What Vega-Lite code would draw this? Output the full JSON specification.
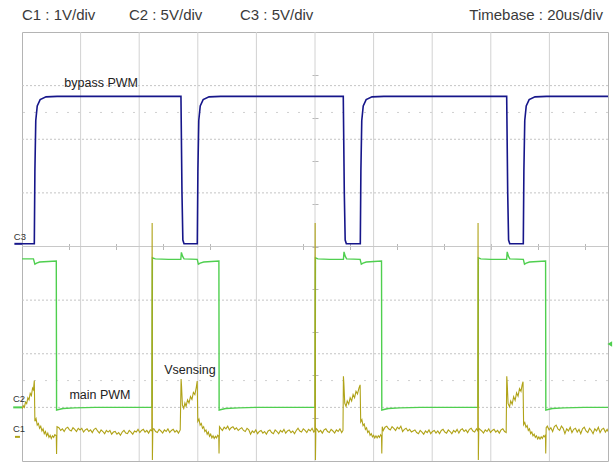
{
  "$schema": "https://vega.github.io/schema/vega-lite/v6.json",
  "width": 586,
  "height": 429,
  "padding": {"left": 22, "top": 32, "right": 5, "bottom": 1},
  "autosize": {"type": "none"},
  "background": "white",
  "config": {
    "view": {"stroke": "#b4b4b4", "strokeWidth": 1},
    "axis": {"title": null, "labels": false, "domain": false, "grid": false},
    "font": "Liberation Sans"
  },
  "datasets": {
    "vgrid": [{"t": 20}, {"t": 40}, {"t": 60}, {"t": 80}, {"t": 100}, {"t": 120}, {"t": 140}, {"t": 160}, {"t": 180}],
    "hgrid": [{"v": 1}, {"v": 2}, {"v": 3}, {"v": 5}, {"v": 6}, {"v": 7}],
    "hcenter": [{"v": 4}],
    "hminor": [{"v": 1.5}, {"v": 6.5}],
    "c3": [
      {"t": 0, "v": 4.05}, {"t": 4.2, "v": 4.05}, {"t": 4.4, "v": 5.4}, {"t": 4.7, "v": 6.35}, {"t": 5.2, "v": 6.62}, {"t": 6.2, "v": 6.74}, {"t": 8.2, "v": 6.79}, {"t": 12, "v": 6.8},
      {"t": 54.25, "v": 6.8}, {"t": 54.6, "v": 5.0}, {"t": 54.9, "v": 4.12}, {"t": 55.3, "v": 4.05},
      {"t": 59.83, "v": 4.05}, {"t": 60.03, "v": 5.4}, {"t": 60.33, "v": 6.35}, {"t": 60.83, "v": 6.62}, {"t": 61.83, "v": 6.74}, {"t": 63.83, "v": 6.79}, {"t": 67.8, "v": 6.8},
      {"t": 109.65, "v": 6.8}, {"t": 110.0, "v": 5.0}, {"t": 110.3, "v": 4.12}, {"t": 110.7, "v": 4.05},
      {"t": 115.46, "v": 4.05}, {"t": 115.66, "v": 5.4}, {"t": 115.96, "v": 6.35}, {"t": 116.46, "v": 6.62}, {"t": 117.46, "v": 6.74}, {"t": 119.46, "v": 6.79}, {"t": 123.5, "v": 6.8},
      {"t": 165.42, "v": 6.8}, {"t": 165.77, "v": 5.0}, {"t": 166.07, "v": 4.12}, {"t": 166.47, "v": 4.05},
      {"t": 171.09, "v": 4.05}, {"t": 171.29, "v": 5.4}, {"t": 171.59, "v": 6.35}, {"t": 172.09, "v": 6.62}, {"t": 173.09, "v": 6.74}, {"t": 175.09, "v": 6.79}, {"t": 179, "v": 6.8}, {"t": 200, "v": 6.8}
    ],
    "c2": [
      {"t": 0, "v": 3.77}, {"t": 3.9, "v": 3.77}, {"t": 4.4, "v": 3.67}, {"t": 5.0, "v": 3.69}, {"t": 6.0, "v": 3.71}, {"t": 9.0, "v": 3.72}, {"t": 11.7, "v": 3.73},
      {"t": 11.8, "v": 0.95}, {"t": 12.5, "v": 0.96}, {"t": 14.0, "v": 0.98}, {"t": 18.0, "v": 0.99}, {"t": 25, "v": 1.0}, {"t": 44.4, "v": 1.0},
      {"t": 44.5, "v": 3.79}, {"t": 45.5, "v": 3.77}, {"t": 50, "v": 3.76}, {"t": 54.2, "v": 3.76}, {"t": 54.4, "v": 3.89}, {"t": 54.8, "v": 3.82}, {"t": 55.3, "v": 3.77},
      {"t": 59.8, "v": 3.76}, {"t": 60.2, "v": 3.67}, {"t": 60.8, "v": 3.69}, {"t": 62, "v": 3.71}, {"t": 67.2, "v": 3.73},
      {"t": 67.28, "v": 0.95}, {"t": 68, "v": 0.96}, {"t": 69.5, "v": 0.98}, {"t": 74, "v": 0.99}, {"t": 80, "v": 1.0}, {"t": 100.05, "v": 1.0},
      {"t": 100.15, "v": 3.79}, {"t": 101, "v": 3.77}, {"t": 105, "v": 3.76}, {"t": 109.7, "v": 3.76}, {"t": 109.9, "v": 3.9}, {"t": 110.3, "v": 3.82}, {"t": 110.8, "v": 3.77},
      {"t": 115.4, "v": 3.76}, {"t": 115.8, "v": 3.67}, {"t": 116.4, "v": 3.69}, {"t": 117.5, "v": 3.71}, {"t": 122.7, "v": 3.73},
      {"t": 122.8, "v": 0.95}, {"t": 123.5, "v": 0.96}, {"t": 125, "v": 0.98}, {"t": 129, "v": 0.99}, {"t": 136, "v": 1.0}, {"t": 155.65, "v": 1.0},
      {"t": 155.75, "v": 3.79}, {"t": 156.6, "v": 3.77}, {"t": 160, "v": 3.76}, {"t": 165.4, "v": 3.76}, {"t": 165.6, "v": 3.9}, {"t": 166.0, "v": 3.82}, {"t": 166.5, "v": 3.77},
      {"t": 171.1, "v": 3.76}, {"t": 171.5, "v": 3.67}, {"t": 172.1, "v": 3.69}, {"t": 173.2, "v": 3.71}, {"t": 178.7, "v": 3.73},
      {"t": 178.78, "v": 0.95}, {"t": 179.5, "v": 0.96}, {"t": 181, "v": 0.98}, {"t": 185, "v": 0.99}, {"t": 192, "v": 1.0}, {"t": 200, "v": 1.0}
    ],
    "c1": [
      {"t": 0, "v": 0.97}, {"t": 0.4, "v": 1.03}, {"t": 0.8, "v": 1.0}, {"t": 1.2, "v": 1.1}, {"t": 1.6, "v": 1.07}, {"t": 2.0, "v": 1.18}, {"t": 2.4, "v": 1.14}, {"t": 2.8, "v": 1.26}, {"t": 3.2, "v": 1.22}, {"t": 3.6, "v": 1.36}, {"t": 3.9, "v": 1.33}, {"t": 4.2, "v": 1.5},
      {"t": 4.4, "v": 0.74}, {"t": 4.8, "v": 0.79}, {"t": 5.2, "v": 0.67}, {"t": 5.6, "v": 0.7}, {"t": 6.0, "v": 0.61}, {"t": 6.4, "v": 0.65}, {"t": 6.8, "v": 0.56}, {"t": 7.2, "v": 0.6}, {"t": 7.6, "v": 0.51}, {"t": 8.0, "v": 0.55}, {"t": 8.4, "v": 0.47}, {"t": 8.8, "v": 0.52}, {"t": 9.2, "v": 0.44}, {"t": 9.6, "v": 0.48}, {"t": 10.0, "v": 0.42}, {"t": 10.4, "v": 0.47}, {"t": 10.8, "v": 0.44}, {"t": 11.2, "v": 0.49}, {"t": 11.7, "v": 0.47},
      {"t": 11.8, "v": 0.13}, {"t": 11.95, "v": 0.64},
      {"t": 12.6, "v": 0.62}, {"t": 13.2, "v": 0.57}, {"t": 13.8, "v": 0.6}, {"t": 14.4, "v": 0.55}, {"t": 15.0, "v": 0.61}, {"t": 15.6, "v": 0.63}, {"t": 16.2, "v": 0.58}, {"t": 16.8, "v": 0.56}, {"t": 17.4, "v": 0.62}, {"t": 18.0, "v": 0.59}, {"t": 18.6, "v": 0.55}, {"t": 19.2, "v": 0.61}, {"t": 19.8, "v": 0.58}, {"t": 20.4, "v": 0.61}, {"t": 21.0, "v": 0.54}, {"t": 21.6, "v": 0.58}, {"t": 22.2, "v": 0.6}, {"t": 22.8, "v": 0.55}, {"t": 23.4, "v": 0.58}, {"t": 24.0, "v": 0.53}, {"t": 24.6, "v": 0.59}, {"t": 25.2, "v": 0.61}, {"t": 25.8, "v": 0.56}, {"t": 26.4, "v": 0.52}, {"t": 27.0, "v": 0.58}, {"t": 27.6, "v": 0.55}, {"t": 28.2, "v": 0.51}, {"t": 28.8, "v": 0.57}, {"t": 29.4, "v": 0.54}, {"t": 30.0, "v": 0.57}, {"t": 30.6, "v": 0.5}, {"t": 31.2, "v": 0.54}, {"t": 31.8, "v": 0.55}, {"t": 32.4, "v": 0.5}, {"t": 33.0, "v": 0.53}, {"t": 33.6, "v": 0.48}, {"t": 34.2, "v": 0.54}, {"t": 34.8, "v": 0.57}, {"t": 35.4, "v": 0.52}, {"t": 36.0, "v": 0.51}, {"t": 36.6, "v": 0.57}, {"t": 37.2, "v": 0.54}, {"t": 37.8, "v": 0.5}, {"t": 38.4, "v": 0.56}, {"t": 39.0, "v": 0.54}, {"t": 39.6, "v": 0.59}, {"t": 40.2, "v": 0.53}, {"t": 40.8, "v": 0.57}, {"t": 41.4, "v": 0.59}, {"t": 42.0, "v": 0.54}, {"t": 42.6, "v": 0.57}, {"t": 43.2, "v": 0.52}, {"t": 43.8, "v": 0.58}, {"t": 44.3, "v": 0.56},
      {"t": 44.42, "v": 4.44}, {"t": 44.5, "v": 0.02}, {"t": 44.65, "v": 0.6},
      {"t": 45.0, "v": 0.6}, {"t": 45.6, "v": 0.55}, {"t": 46.2, "v": 0.53}, {"t": 46.8, "v": 0.59}, {"t": 47.4, "v": 0.56}, {"t": 48.0, "v": 0.52}, {"t": 48.6, "v": 0.58}, {"t": 49.2, "v": 0.55}, {"t": 49.8, "v": 0.6}, {"t": 50.4, "v": 0.53}, {"t": 51.0, "v": 0.57}, {"t": 51.6, "v": 0.59}, {"t": 52.2, "v": 0.54}, {"t": 52.8, "v": 0.57}, {"t": 53.4, "v": 0.52}, {"t": 54.0, "v": 0.58},
      {"t": 54.3, "v": 1.53}, {"t": 54.45, "v": 1.4}, {"t": 54.75, "v": 1.04}, {"t": 55.2, "v": 0.98}, {"t": 55.6, "v": 1.08}, {"t": 56.0, "v": 1.02}, {"t": 56.5, "v": 1.14}, {"t": 57.0, "v": 1.08}, {"t": 57.5, "v": 1.2}, {"t": 58.0, "v": 1.15}, {"t": 58.5, "v": 1.28}, {"t": 59.0, "v": 1.24}, {"t": 59.5, "v": 1.38}, {"t": 59.8, "v": 1.49},
      {"t": 60.0, "v": 0.74}, {"t": 60.4, "v": 0.78}, {"t": 60.8, "v": 0.67}, {"t": 61.2, "v": 0.7}, {"t": 61.6, "v": 0.61}, {"t": 62.0, "v": 0.64}, {"t": 62.4, "v": 0.55}, {"t": 62.8, "v": 0.58}, {"t": 63.2, "v": 0.5}, {"t": 63.6, "v": 0.54}, {"t": 64.0, "v": 0.46}, {"t": 64.4, "v": 0.5}, {"t": 64.8, "v": 0.43}, {"t": 65.2, "v": 0.47}, {"t": 65.6, "v": 0.42}, {"t": 66.0, "v": 0.46}, {"t": 66.4, "v": 0.43}, {"t": 66.8, "v": 0.48}, {"t": 67.15, "v": 0.46},
      {"t": 67.25, "v": 0.14}, {"t": 67.4, "v": 0.64},
      {"t": 67.8, "v": 0.61}, {"t": 68.4, "v": 0.57}, {"t": 69.0, "v": 0.63}, {"t": 69.6, "v": 0.6}, {"t": 70.2, "v": 0.65}, {"t": 70.8, "v": 0.58}, {"t": 71.4, "v": 0.62}, {"t": 72.0, "v": 0.64}, {"t": 72.6, "v": 0.59}, {"t": 73.2, "v": 0.62}, {"t": 73.8, "v": 0.57}, {"t": 74.4, "v": 0.6}, {"t": 75.0, "v": 0.62}, {"t": 75.6, "v": 0.57}, {"t": 76.2, "v": 0.55}, {"t": 76.8, "v": 0.61}, {"t": 77.4, "v": 0.58}, {"t": 78.0, "v": 0.5}, {"t": 78.6, "v": 0.56}, {"t": 79.2, "v": 0.53}, {"t": 79.8, "v": 0.58}, {"t": 80.4, "v": 0.51}, {"t": 81.0, "v": 0.55}, {"t": 81.6, "v": 0.57}, {"t": 82.2, "v": 0.52}, {"t": 82.8, "v": 0.55}, {"t": 83.4, "v": 0.5}, {"t": 84.0, "v": 0.56}, {"t": 84.6, "v": 0.58}, {"t": 85.2, "v": 0.53}, {"t": 85.8, "v": 0.51}, {"t": 86.4, "v": 0.58}, {"t": 87.0, "v": 0.55}, {"t": 87.6, "v": 0.51}, {"t": 88.2, "v": 0.57}, {"t": 88.8, "v": 0.54}, {"t": 89.4, "v": 0.59}, {"t": 90.0, "v": 0.52}, {"t": 90.6, "v": 0.56}, {"t": 91.2, "v": 0.58}, {"t": 91.8, "v": 0.53}, {"t": 92.4, "v": 0.56}, {"t": 93.0, "v": 0.51}, {"t": 93.6, "v": 0.57}, {"t": 94.2, "v": 0.61}, {"t": 94.8, "v": 0.56}, {"t": 95.4, "v": 0.54}, {"t": 96.0, "v": 0.6}, {"t": 96.6, "v": 0.57}, {"t": 97.2, "v": 0.53}, {"t": 97.8, "v": 0.59}, {"t": 98.4, "v": 0.56}, {"t": 99.0, "v": 0.61}, {"t": 99.6, "v": 0.54}, {"t": 99.95, "v": 0.57},
      {"t": 100.05, "v": 4.44}, {"t": 100.15, "v": 0.02}, {"t": 100.3, "v": 0.61},
      {"t": 100.7, "v": 0.59}, {"t": 101.3, "v": 0.54}, {"t": 101.9, "v": 0.57}, {"t": 102.5, "v": 0.52}, {"t": 103.1, "v": 0.58}, {"t": 103.7, "v": 0.6}, {"t": 104.3, "v": 0.55}, {"t": 104.9, "v": 0.53}, {"t": 105.5, "v": 0.59}, {"t": 106.1, "v": 0.56}, {"t": 106.7, "v": 0.52}, {"t": 107.3, "v": 0.58}, {"t": 107.9, "v": 0.55}, {"t": 108.5, "v": 0.6}, {"t": 109.1, "v": 0.53}, {"t": 109.55, "v": 0.57},
      {"t": 109.7, "v": 1.58}, {"t": 109.85, "v": 1.45}, {"t": 110.15, "v": 1.08}, {"t": 110.6, "v": 1.02}, {"t": 111.0, "v": 1.12}, {"t": 111.5, "v": 1.06}, {"t": 112.0, "v": 1.18}, {"t": 112.5, "v": 1.12}, {"t": 113.0, "v": 1.24}, {"t": 113.5, "v": 1.18}, {"t": 114.0, "v": 1.3}, {"t": 114.5, "v": 1.25}, {"t": 115.0, "v": 1.36}, {"t": 115.4, "v": 1.42},
      {"t": 115.6, "v": 0.73}, {"t": 116.0, "v": 0.77}, {"t": 116.4, "v": 0.66}, {"t": 116.8, "v": 0.69}, {"t": 117.2, "v": 0.59}, {"t": 117.6, "v": 0.62}, {"t": 118.0, "v": 0.53}, {"t": 118.4, "v": 0.56}, {"t": 118.8, "v": 0.48}, {"t": 119.2, "v": 0.51}, {"t": 119.6, "v": 0.45}, {"t": 120.0, "v": 0.48}, {"t": 120.4, "v": 0.43}, {"t": 120.8, "v": 0.47}, {"t": 121.2, "v": 0.43}, {"t": 121.6, "v": 0.47}, {"t": 122.0, "v": 0.44}, {"t": 122.4, "v": 0.49}, {"t": 122.7, "v": 0.46},
      {"t": 122.8, "v": 0.14}, {"t": 122.95, "v": 0.64},
      {"t": 123.3, "v": 0.57}, {"t": 123.9, "v": 0.63}, {"t": 124.5, "v": 0.65}, {"t": 125.1, "v": 0.6}, {"t": 125.7, "v": 0.58}, {"t": 126.3, "v": 0.64}, {"t": 126.9, "v": 0.61}, {"t": 127.5, "v": 0.57}, {"t": 128.1, "v": 0.63}, {"t": 128.7, "v": 0.6}, {"t": 129.3, "v": 0.65}, {"t": 129.9, "v": 0.55}, {"t": 130.5, "v": 0.59}, {"t": 131.1, "v": 0.61}, {"t": 131.7, "v": 0.56}, {"t": 132.3, "v": 0.59}, {"t": 132.9, "v": 0.54}, {"t": 133.5, "v": 0.56}, {"t": 134.1, "v": 0.58}, {"t": 134.7, "v": 0.53}, {"t": 135.3, "v": 0.51}, {"t": 135.9, "v": 0.57}, {"t": 136.5, "v": 0.54}, {"t": 137.1, "v": 0.5}, {"t": 137.7, "v": 0.56}, {"t": 138.3, "v": 0.53}, {"t": 138.9, "v": 0.58}, {"t": 139.5, "v": 0.51}, {"t": 140.1, "v": 0.55}, {"t": 140.7, "v": 0.57}, {"t": 141.3, "v": 0.52}, {"t": 141.9, "v": 0.56}, {"t": 142.5, "v": 0.51}, {"t": 143.1, "v": 0.57}, {"t": 143.7, "v": 0.59}, {"t": 144.3, "v": 0.54}, {"t": 144.9, "v": 0.52}, {"t": 145.5, "v": 0.58}, {"t": 146.1, "v": 0.55}, {"t": 146.7, "v": 0.51}, {"t": 147.3, "v": 0.57}, {"t": 147.9, "v": 0.54}, {"t": 148.5, "v": 0.59}, {"t": 149.1, "v": 0.52}, {"t": 149.7, "v": 0.58}, {"t": 150.3, "v": 0.6}, {"t": 150.9, "v": 0.55}, {"t": 151.5, "v": 0.58}, {"t": 152.1, "v": 0.53}, {"t": 152.7, "v": 0.59}, {"t": 153.3, "v": 0.61}, {"t": 153.9, "v": 0.56}, {"t": 154.5, "v": 0.54}, {"t": 155.1, "v": 0.6}, {"t": 155.55, "v": 0.56},
      {"t": 155.65, "v": 4.44}, {"t": 155.75, "v": 0.02}, {"t": 155.9, "v": 0.61},
      {"t": 156.3, "v": 0.59}, {"t": 156.9, "v": 0.56}, {"t": 157.5, "v": 0.52}, {"t": 158.1, "v": 0.58}, {"t": 158.7, "v": 0.55}, {"t": 159.3, "v": 0.6}, {"t": 159.9, "v": 0.53}, {"t": 160.5, "v": 0.57}, {"t": 161.1, "v": 0.59}, {"t": 161.7, "v": 0.54}, {"t": 162.3, "v": 0.57}, {"t": 162.9, "v": 0.52}, {"t": 163.5, "v": 0.58}, {"t": 164.1, "v": 0.6}, {"t": 164.7, "v": 0.55}, {"t": 165.25, "v": 0.53},
      {"t": 165.45, "v": 1.58}, {"t": 165.6, "v": 1.45}, {"t": 165.9, "v": 1.07}, {"t": 166.4, "v": 1.01}, {"t": 166.8, "v": 1.12}, {"t": 167.3, "v": 1.06}, {"t": 167.8, "v": 1.2}, {"t": 168.3, "v": 1.13}, {"t": 168.8, "v": 1.27}, {"t": 169.3, "v": 1.21}, {"t": 169.8, "v": 1.35}, {"t": 170.3, "v": 1.3}, {"t": 170.7, "v": 1.42}, {"t": 171.0, "v": 1.48},
      {"t": 171.2, "v": 0.68}, {"t": 171.6, "v": 0.72}, {"t": 172.0, "v": 0.63}, {"t": 172.4, "v": 0.66}, {"t": 172.8, "v": 0.57}, {"t": 173.2, "v": 0.6}, {"t": 173.6, "v": 0.51}, {"t": 174.0, "v": 0.54}, {"t": 174.4, "v": 0.47}, {"t": 174.8, "v": 0.5}, {"t": 175.2, "v": 0.44}, {"t": 175.6, "v": 0.47}, {"t": 176.0, "v": 0.41}, {"t": 176.4, "v": 0.45}, {"t": 176.8, "v": 0.41}, {"t": 177.2, "v": 0.45}, {"t": 177.6, "v": 0.42}, {"t": 178.0, "v": 0.47}, {"t": 178.4, "v": 0.45}, {"t": 178.65, "v": 0.49},
      {"t": 178.75, "v": 0.14}, {"t": 178.9, "v": 0.62},
      {"t": 179.3, "v": 0.65}, {"t": 179.9, "v": 0.58}, {"t": 180.5, "v": 0.62}, {"t": 181.1, "v": 0.55}, {"t": 181.7, "v": 0.64}, {"t": 182.3, "v": 0.67}, {"t": 182.9, "v": 0.6}, {"t": 183.5, "v": 0.57}, {"t": 184.1, "v": 0.65}, {"t": 184.7, "v": 0.61}, {"t": 185.3, "v": 0.51}, {"t": 185.9, "v": 0.6}, {"t": 186.5, "v": 0.56}, {"t": 187.1, "v": 0.63}, {"t": 187.7, "v": 0.53}, {"t": 188.3, "v": 0.59}, {"t": 188.9, "v": 0.61}, {"t": 189.5, "v": 0.54}, {"t": 190.1, "v": 0.59}, {"t": 190.7, "v": 0.51}, {"t": 191.3, "v": 0.6}, {"t": 191.9, "v": 0.63}, {"t": 192.5, "v": 0.56}, {"t": 193.1, "v": 0.53}, {"t": 193.7, "v": 0.61}, {"t": 194.3, "v": 0.57}, {"t": 194.9, "v": 0.51}, {"t": 195.5, "v": 0.6}, {"t": 196.1, "v": 0.56}, {"t": 196.7, "v": 0.63}, {"t": 197.3, "v": 0.53}, {"t": 197.9, "v": 0.59}, {"t": 198.5, "v": 0.61}, {"t": 199.1, "v": 0.54}, {"t": 199.7, "v": 0.59}, {"t": 200, "v": 0.55}
    ],
    "markers": [
      {"ch": "C3", "t": -2.6, "t2": 0, "v": 4.05},
      {"ch": "C2", "t": -3.0, "t2": 0, "v": 1.0},
      {"ch": "C1", "t": -2.4, "t2": -0.7, "v": 0.45}
    ],
    "chlabels": [
      {"label": "C3", "t": -2.8, "v": 4.18},
      {"label": "C2", "t": -3.1, "v": 1.16},
      {"label": "C1", "t": -3.1, "v": 0.6}
    ],
    "notes": [
      {"label": "bypass PWM", "t": 27.0, "v": 7.05},
      {"label": "main PWM", "t": 26.6, "v": 1.23},
      {"label": "Vsensing", "t": 57.3, "v": 1.7}
    ],
    "headerLeft": [
      {"label": "C1 : 1V/div", "t": 0, "v": 8.31},
      {"label": "C2 : 5V/div", "t": 36.5, "v": 8.31},
      {"label": "C3 : 5V/div", "t": 74.4, "v": 8.31}
    ],
    "headerRight": [
      {"label": "Timebase : 20us/div", "t": 198.3, "v": 8.31}
    ],
    "trigger": [{"t": 200.6, "v": 2.18}]
  },
  "layer": [
    {
      "data": {"name": "vgrid"},
      "mark": {"type": "rule", "color": "#d2d2d2", "strokeWidth": 1},
      "encoding": {
        "x": {"field": "t", "type": "quantitative", "scale": {"domain": [0, 200], "nice": false, "zero": false},
          "axis": {"values": [0,4,8,12,16,20,24,28,32,36,40,44,48,52,56,60,64,68,72,76,80,84,88,92,96,100,104,108,112,116,120,124,128,132,136,140,144,148,152,156,160,164,168,172,176,180,184,188,192,196,200],
            "orient": "bottom", "offset": -217.5, "tickSize": 6, "tickColor": "#b8b8b8", "tickWidth": 1, "labels": false, "domain": false, "grid": false, "title": null}}
      }
    },
    {
      "data": {"name": "hgrid"},
      "mark": {"type": "rule", "color": "#c4c4c4", "strokeWidth": 1, "strokeDash": [2, 2]},
      "encoding": {
        "y": {"field": "v", "type": "quantitative", "scale": {"domain": [0, 8], "nice": false, "zero": false},
          "axis": {"values": [0,0.2,0.4,0.6,0.8,1,1.2,1.4,1.6,1.8,2,2.2,2.4,2.6,2.8,3,3.2,3.4,3.6,3.8,4,4.2,4.4,4.6,4.8,5,5.2,5.4,5.6,5.8,6,6.2,6.4,6.6,6.8,7,7.2,7.4,7.6,7.8,8],
            "orient": "left", "offset": -296, "tickSize": 6, "tickColor": "#b8b8b8", "tickWidth": 1, "labels": false, "domain": false, "grid": false, "title": null}}
      }
    },
    {
      "data": {"name": "hcenter"},
      "mark": {"type": "rule", "color": "#c8c8c8", "strokeWidth": 1},
      "encoding": {"y": {"field": "v", "type": "quantitative"}}
    },
    {
      "data": {"name": "hminor"},
      "mark": {"type": "rule", "color": "#d0d0d0", "strokeWidth": 1, "strokeDash": [2, 9]},
      "encoding": {"y": {"field": "v", "type": "quantitative"}}
    },
    {
      "data": {"name": "c2"},
      "mark": {"type": "line", "color": "#4fcf4f", "strokeWidth": 1.4, "clip": true},
      "encoding": {"x": {"field": "t", "type": "quantitative"}, "y": {"field": "v", "type": "quantitative"}}
    },
    {
      "data": {"name": "c3"},
      "mark": {"type": "line", "color": "#16168a", "strokeWidth": 1.6, "clip": true},
      "encoding": {"x": {"field": "t", "type": "quantitative"}, "y": {"field": "v", "type": "quantitative"}}
    },
    {
      "data": {"name": "c1"},
      "mark": {"type": "line", "color": "#b0a318", "strokeWidth": 1.1, "clip": true},
      "encoding": {"x": {"field": "t", "type": "quantitative"}, "y": {"field": "v", "type": "quantitative"}}
    },
    {
      "data": {"name": "markers"},
      "mark": {"type": "rule", "strokeWidth": 2},
      "encoding": {
        "x": {"field": "t", "type": "quantitative"},
        "x2": {"field": "t2"},
        "y": {"field": "v", "type": "quantitative"},
        "color": {"field": "ch", "type": "nominal", "scale": {"domain": ["C1", "C2", "C3"], "range": ["#b0a318", "#4fcf4f", "#16168a"]}, "legend": null}
      }
    },
    {
      "data": {"name": "chlabels"},
      "mark": {"type": "text", "fontSize": 9.5, "align": "left", "baseline": "middle", "color": "#333333"},
      "encoding": {"x": {"field": "t", "type": "quantitative"}, "y": {"field": "v", "type": "quantitative"}, "text": {"field": "label"}}
    },
    {
      "data": {"name": "notes"},
      "mark": {"type": "text", "fontSize": 12.5, "align": "center", "baseline": "middle", "color": "#222222"},
      "encoding": {"x": {"field": "t", "type": "quantitative"}, "y": {"field": "v", "type": "quantitative"}, "text": {"field": "label"}}
    },
    {
      "data": {"name": "headerLeft"},
      "mark": {"type": "text", "fontSize": 15, "align": "left", "baseline": "middle", "color": "#3a3a3a"},
      "encoding": {"x": {"field": "t", "type": "quantitative"}, "y": {"field": "v", "type": "quantitative"}, "text": {"field": "label"}}
    },
    {
      "data": {"name": "headerRight"},
      "mark": {"type": "text", "fontSize": 15, "align": "right", "baseline": "middle", "color": "#3a3a3a"},
      "encoding": {"x": {"field": "t", "type": "quantitative"}, "y": {"field": "v", "type": "quantitative"}, "text": {"field": "label"}}
    },
    {
      "data": {"name": "trigger"},
      "mark": {"type": "point", "shape": "triangle-left", "filled": true, "size": 30, "color": "#4fcf4f", "opacity": 1},
      "encoding": {"x": {"field": "t", "type": "quantitative"}, "y": {"field": "v", "type": "quantitative"}}
    }
  ]
}
